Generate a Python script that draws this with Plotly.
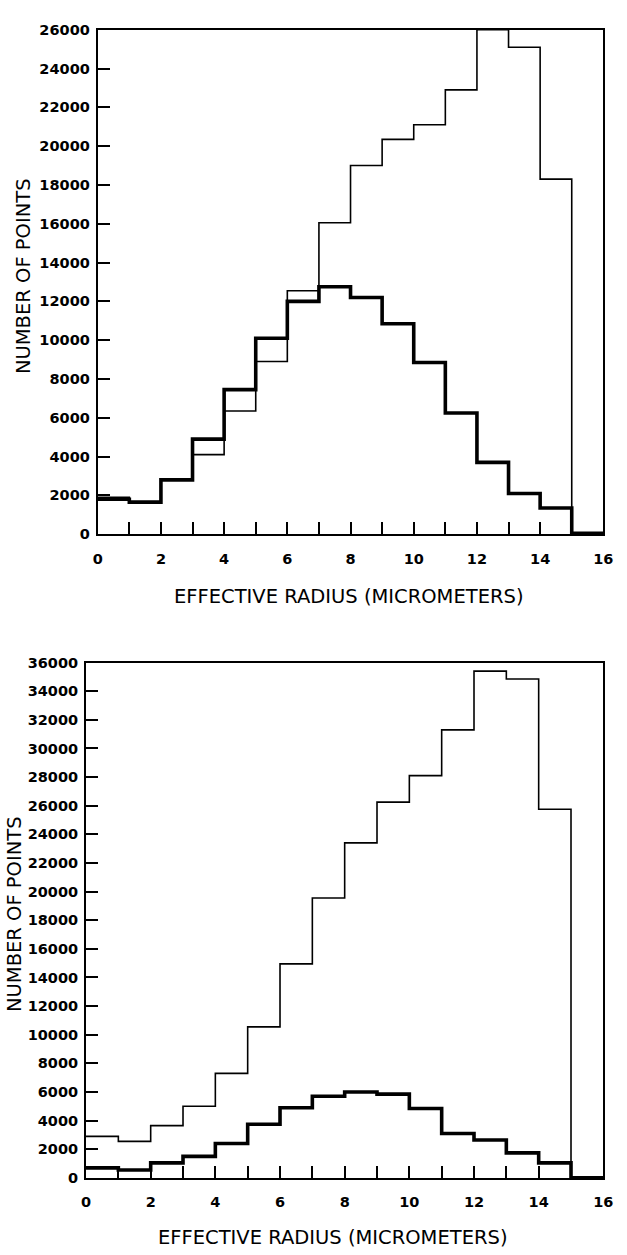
import plotly.graph_objects as go

# ---- data ----
bin_edges = list(range(0, 17))  # effective radius bins, micrometers
top_thin = [1900, 1700, 2800, 4100, 6350, 8900, 12550, 16050, 19000, 20350,
            21100, 22900, 26000, 25100, 18300, 100]
top_thick = [1800, 1650, 2800, 4900, 7450, 10100, 12000, 12750, 12200, 10850,
             8850, 6250, 3700, 2100, 1350, 0]
bot_thin = [2900, 2550, 3650, 5000, 7300, 10550, 14950, 19550, 23400, 26250,
            28100, 31300, 35400, 34850, 25750, 0]
bot_thick = [700, 550, 1050, 1500, 2400, 3750, 4900, 5700, 6000, 5850,
             4850, 3100, 2650, 1750, 1050, 0]
x_tick_vals = list(range(0, 17))
x_tick_text = [str(v) if v % 2 == 0 else "" for v in x_tick_vals]
x_title = "EFFECTIVE RADIUS (MICROMETERS)"
y_title = "NUMBER OF POINTS"

W, H = 627, 1255
fig = go.Figure()


def step(vals):
    return vals + [vals[-1]]


fig.add_trace(go.Scatter(x=bin_edges, y=step(top_thin), mode="lines", line_shape="hv",
                         line=dict(color="black", width=1.6), xaxis="x", yaxis="y",
                         showlegend=False))
fig.add_trace(go.Scatter(x=bin_edges, y=step(top_thick), mode="lines", line_shape="hv",
                         line=dict(color="black", width=3.6), xaxis="x", yaxis="y",
                         showlegend=False))
fig.add_trace(go.Scatter(x=bin_edges, y=step(bot_thin), mode="lines", line_shape="hv",
                         line=dict(color="black", width=1.6), xaxis="x2", yaxis="y2",
                         showlegend=False))
fig.add_trace(go.Scatter(x=bin_edges, y=step(bot_thick), mode="lines", line_shape="hv",
                         line=dict(color="black", width=3.6), xaxis="x2", yaxis="y2",
                         showlegend=False))

tickfont = dict(family="DejaVu Sans", size=14.5, color="black", weight="bold")
titlefont = dict(family="DejaVu Sans", size=19.5, color="black")

common_x = dict(range=[0, 16], tickmode="array", tickvals=x_tick_vals, ticktext=x_tick_text,
                showline=True, linewidth=2, linecolor="black", mirror=True,
                ticks="inside", ticklen=12, tickwidth=1.5, tickcolor="black",
                showgrid=False, zeroline=False, tickfont=tickfont, ticklabelstandoff=10)
common_y = dict(dtick=2000, tick0=0, tickmode="linear", tickformat="d",
                showline=True, linewidth=2, linecolor="black", mirror=True,
                ticks="inside", ticklen=12, tickwidth=1.5, tickcolor="black",
                showgrid=False, zeroline=False, tickfont=tickfont, ticklabelstandoff=3)


def px_x(p):
    return p / W


def px_y(p):
    return 1 - p / H


fig.update_layout(
    width=W, height=H, margin=dict(l=0, r=0, t=0, b=0),
    paper_bgcolor="white", plot_bgcolor="white",
    xaxis=dict(domain=[px_x(95), px_x(613)], anchor="y", **common_x),
    yaxis=dict(domain=[px_y(533), px_y(22)], anchor="x", range=[0, 26000], **common_y),
    xaxis2=dict(domain=[px_x(83), px_x(613)], anchor="y2", **common_x),
    yaxis2=dict(domain=[px_y(1185), px_y(663)], anchor="x2", range=[0, 36000], **common_y),
    annotations=[
        dict(text=x_title, x=px_x(352), y=px_y(596), xref="paper", yref="paper",
             showarrow=False, font=titlefont, xanchor="center", yanchor="middle"),
        dict(text=x_title, x=px_x(336), y=px_y(1245), xref="paper", yref="paper",
             showarrow=False, font=titlefont, xanchor="center", yanchor="middle"),
        dict(text=y_title, x=px_x(19), y=px_y(272), xref="paper", yref="paper",
             showarrow=False, font=titlefont, textangle=-90, xanchor="center", yanchor="middle"),
        dict(text=y_title, x=px_x(10), y=px_y(918), xref="paper", yref="paper",
             showarrow=False, font=titlefont, textangle=-90, xanchor="center", yanchor="middle"),
    ],
)

fig.write_html("out.html")
